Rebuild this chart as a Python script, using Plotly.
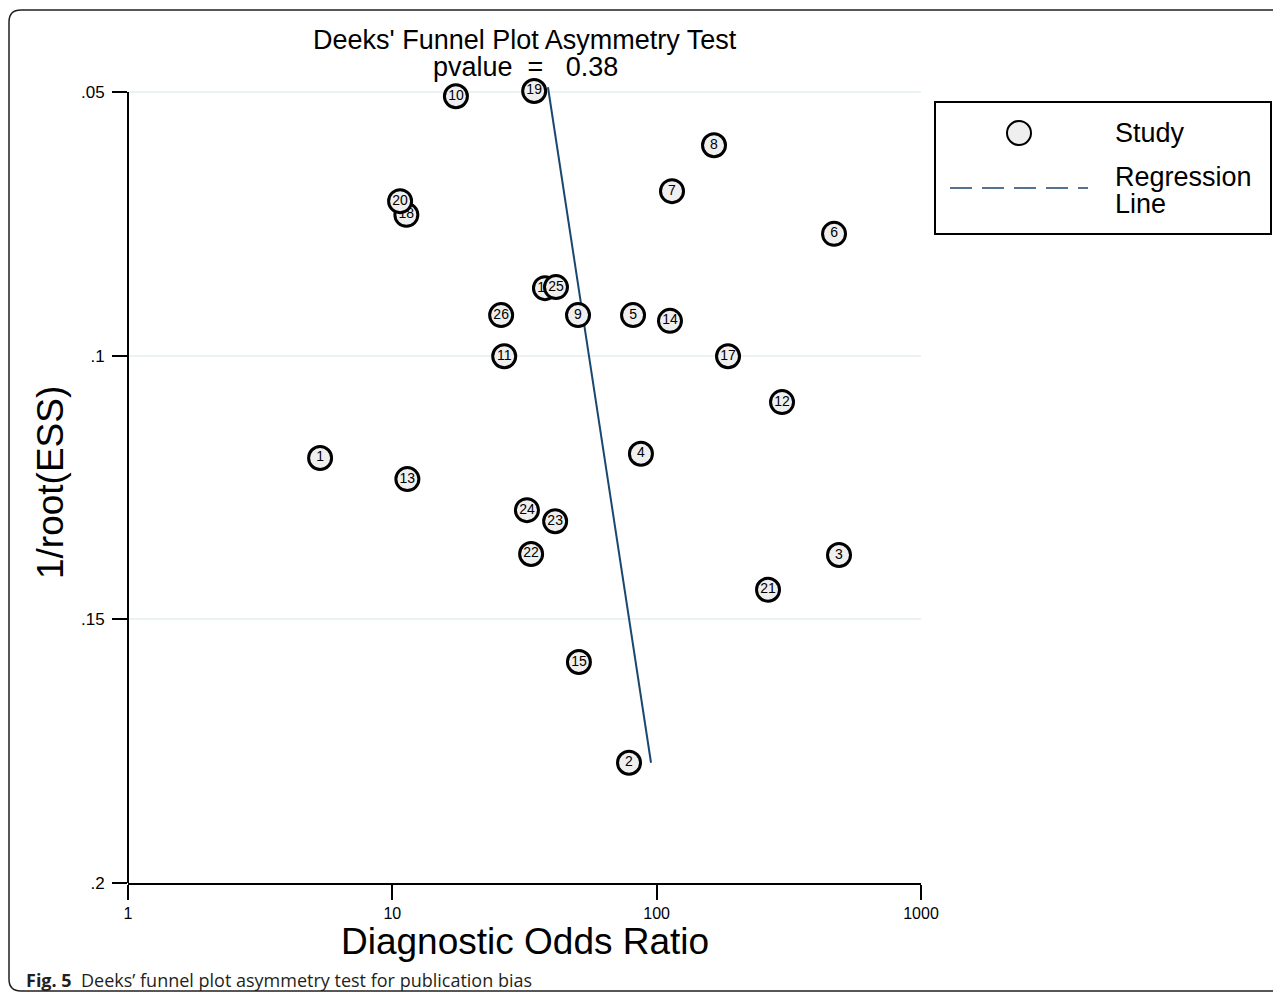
import plotly.graph_objects as go

# ---- data ----
study_ids = [1, 2, 3, 4, 5, 6, 7, 8, 9, 10, 11, 12, 13, 14, 15, 16, 17, 18, 19, 20,
             21, 22, 23, 24, 25, 26]
diag_odds_ratio = [5.33, 78.6, 489.6, 87.2, 81.4, 468.8, 114.3, 164.8, 50.4, 17.4,
                   26.5, 298.0, 11.4, 112.3, 50.8, 37.8, 186.2, 11.3, 34.4, 10.7,
                   263.8, 33.5, 41.3, 32.3, 41.6, 25.8]
inv_root_ess = [0.1194, 0.1772, 0.1378, 0.1186, 0.0923, 0.0769, 0.0688, 0.0601, 0.0923, 0.0508,
                0.1001, 0.1088, 0.1234, 0.0934, 0.1581, 0.0872, 0.1001, 0.0733, 0.0498, 0.0707,
                0.1444, 0.1376, 0.1314, 0.1293, 0.0870, 0.0923]
# regression line endpoints (x = DOR, y = 1/root(ESS))
reg_x = [38.8, 95.2]
reg_y = [0.0491, 0.1772]

x_ticks = [1, 10, 100, 1000]
x_tick_labels = ["1", "10", "100", "1000"]
y_ticks = [0.05, 0.1, 0.15, 0.2]
y_tick_labels = [".05", ".1", ".15", ".2"]
p_value = 0.38

FONT = "Liberation Sans, Arial, Helvetica, sans-serif"
NAVY = "#1a476f"
GRID = "#eaf2f3"
MFILL = "#efefef"

fig = go.Figure()

# regression line
fig.add_trace(go.Scatter(x=reg_x, y=reg_y, mode="lines",
                         line=dict(color=NAVY, width=2), showlegend=False,
                         name="Regression Line", hoverinfo="skip"))

# one trace per study so that later circles overlap earlier ones
order = sorted(range(len(study_ids)), key=lambda i: study_ids[i])
for i in order:
    fig.add_trace(go.Scatter(
        x=[diag_odds_ratio[i]], y=[inv_root_ess[i]], mode="markers+text",
        text=[str(study_ids[i])], textposition="middle center",
        textfont=dict(family=FONT, size=14, color="black"),
        marker=dict(size=23, color=MFILL, line=dict(color="black", width=3)),
        cliponaxis=False, showlegend=False, name="Study"))

# layout geometry (reference pixel coords; page has an 8px body margin)
OFF = 8
W, H = 1281 - 2 * OFF, 1000 - 2 * OFF
L, R, T, B = 128, 921, 84, 883
pw, ph = R - L, B - T


def px(xp):
    return (xp - L) / pw


def py(yp):
    return (B - yp) / ph


fig.update_layout(
    width=W, height=H,
    margin=dict(l=L - OFF, r=W - (R - OFF), t=T - OFF, b=H - (B - OFF), pad=0),
    paper_bgcolor="white", plot_bgcolor="white",
    font=dict(family=FONT, color="black"),
    showlegend=False,
    xaxis=dict(type="log", range=[0, 3], tickvals=x_ticks, ticktext=x_tick_labels,
               showgrid=False, zeroline=False, showline=True, linecolor="black",
               linewidth=2, ticks="outside", ticklen=15, tickwidth=2,
               tickcolor="black", tickfont=dict(size=16, family=FONT)),
    yaxis=dict(range=[0.2, 0.2 - (B - T) / 5273.3], tickvals=y_ticks,
               ticktext=y_tick_labels, showgrid=True, gridcolor=GRID, gridwidth=2,
               zeroline=False, showline=False, ticks="outside", ticklen=15,
               tickwidth=2, tickcolor="black", tickfont=dict(size=17, family=FONT),
               ticklabelstandoff=4),
)

# left axis line from .05 to .2 only
fig.add_shape(type="line", xref="paper", yref="y", x0=0, x1=0, y0=0.05, y1=0.2,
              line=dict(color="black", width=2))


def ann(text, x, y, size, xanchor="center", angle=0, family=FONT, color="black"):
    fig.add_annotation(text=text, xref="paper", yref="paper", x=px(x), y=py(y),
                       xanchor=xanchor, yanchor="middle", showarrow=False,
                       textangle=angle, font=dict(size=size, family=family, color=color))


# titles
ann("Deeks' Funnel Plot Asymmetry Test", 525, 40, 27)
ann(f"pvalue  =   {p_value:.2f}", 525, 67, 27)
ann("Diagnostic Odds Ratio", 525, 941, 37)
ann("1/root(ESS)", 50, 483, 37, angle=-90)
ann("<b>Fig. 5</b>  Deeks\u2019 funnel plot asymmetry test for publication bias",
    24, 980, 18, xanchor="left", family="Open Sans, Noto Sans, sans-serif",
    color="#231f20")

# legend box (drawn)
fig.add_shape(type="rect", xref="paper", yref="paper",
              x0=px(935), x1=px(1271), y0=py(234), y1=py(102),
              line=dict(color="black", width=2), fillcolor="white")
fig.add_shape(type="circle", xref="paper", yref="paper",
              x0=px(1007), x1=px(1031), y0=py(145), y1=py(121),
              line=dict(color="black", width=2), fillcolor=MFILL)
fig.add_shape(type="line", xref="paper", yref="paper",
              x0=px(950), x1=px(1088), y0=py(188), y1=py(188),
              line=dict(color=NAVY, width=1.5, dash="22px,10px"))
ann("Study", 1113, 133, 27, xanchor="left")
ann("Regression", 1113, 177, 27, xanchor="left")
ann("Line", 1113, 204, 27, xanchor="left")

# outer rounded frame
x0, x1 = px(9), px(1300)
yt, yb = py(10), py(991)
rx, ry = 12 / pw, 12 / ph
path = (f"M {x1},{yt} L {x0 + rx},{yt} Q {x0},{yt} {x0},{yt - ry} "
        f"L {x0},{yb + ry} Q {x0},{yb} {x0 + rx},{yb} L {x1},{yb}")
fig.add_shape(type="path", xref="paper", yref="paper", path=path,
              line=dict(color="#231f20", width=1.5))

fig.write_html("out.html")
